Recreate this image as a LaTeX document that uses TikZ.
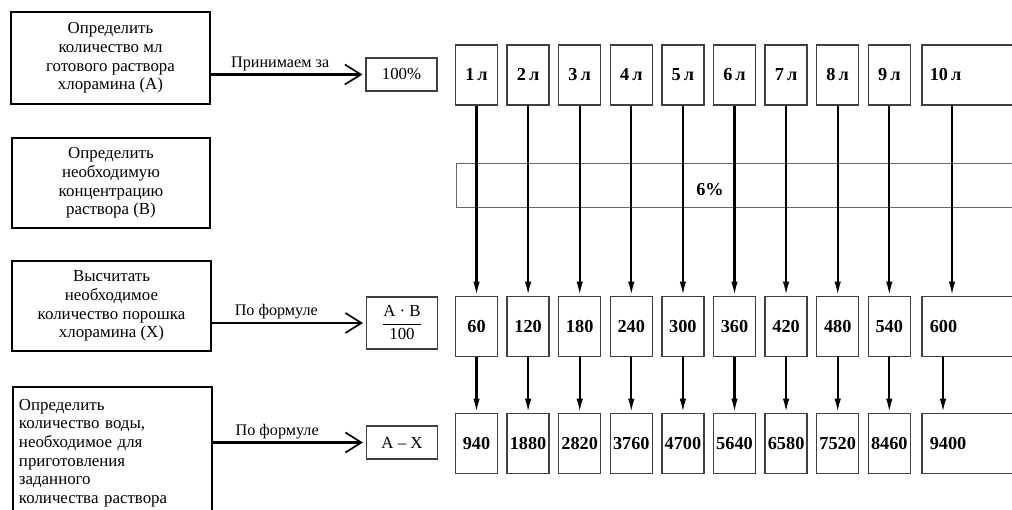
\documentclass[tikz,border=0pt]{standalone}
\usepackage{amsmath}
\usepackage{fontspec}
\setmainfont{Liberation Serif}
\usepackage{tikz}
\usetikzlibrary{arrows.meta, positioning}

\begin{document}
\begin{tikzpicture}[
  x=0.025cm, y=-0.025cm,
  stepbox/.style={rectangle, draw, line width=1.4pt, minimum width=4.95cm, minimum height=2.25cm, align=center, font=\fontsize{12}{13.3}\selectfont},
  resbox/.style={rectangle, draw=black!75, line width=1pt, minimum width=1.775cm, minimum height=0.825cm, font=\fontsize{12}{13}\selectfont},
  valbox/.style={rectangle, draw=black!75, line width=1.1pt, minimum width=1.05cm, minimum height=1.5cm, inner sep=1pt, font=\bfseries\fontsize{13}{14}\selectfont},
  widebox/.style={valbox, anchor=west, minimum width=2.75cm, text width=2.35cm, inner xsep=0.2cm, align=left},
  harrow/.style={-{Straight Barb[length=4mm, width=5mm, line width=1.2pt]}, line width=1.5pt, shorten >=2pt},
  varrow/.style={-{Latex[length=3.5mm, width=1.6mm]}, line width=1.5pt},
  lbl/.style={font=\fontsize{11.5}{12}\selectfont, inner sep=2pt}
]
\useasboundingbox (0,0) rectangle (1012,510);

\node (detA) [stepbox, minimum height=2.3cm] at (110.5,58) {Определить\\количество мл\\готового раствора\\хлорамина (А)};
\node (detB) [stepbox] at (111,183) {Определить\\необходимую\\концентрацию\\раствора (В)};
\node (calcX) [stepbox] at (111.5,306) {Высчитать\\необходимое\\количество порошка\\хлорамина (Х)};
\node (water) [stepbox, anchor=north west, minimum height=3.3cm, text width=4.675cm, inner xsep=0.15cm, align=left] at (12,386) {Определить\\количество воды,\\необходимое для\\приготовления\\заданного\\количества раствора};

\node (full) [resbox] at (401.5,74.5) {100\%};
\node (frac) [resbox, minimum height=1.3cm] at (402,323) {$\dfrac{\text{A · B}}{\text{100}}$};
\node (diff) [resbox] at (402,442.5) {A -- X};

\draw [harrow] (detA.east |- full.west) -- node[lbl, above, pos=0.45] {Принимаем за} (full.west);
\draw [harrow] (calcX.east |- frac.west) -- node[lbl, above, pos=0.42] {По формуле} (frac.west);
\draw [harrow] (water.east |- diff.west) -- node[lbl, above, pos=0.42] {По формуле} (diff.west);

% concentration band, crossed by the arrows
\node (band) [rectangle, draw=black!60, line width=0.6pt, minimum width=14.35cm, minimum height=1.1cm] at (743,185) {};
\node (conc) [font=\bfseries\fontsize{13}{14}\selectfont] at (710,190) {6\%};

\foreach \x/\n/\m/\w in {476.5/1/60/940, 528.1/2/120/1880, 579.7/3/180/2820, 631.3/4/240/3760,
    682.9/5/300/4700, 734.5/6/360/5640, 786.1/7/420/6580, 837.7/8/480/7520, 889.3/9/540/8460} {
  \node (vol\n) [valbox] at (\x,75) {\n\,л};
  \node (pow\n) [valbox] at (\x,326.5) {\m};
  \node (wat\n) [valbox] at (\x,443.5) {\w};
  \draw [varrow] (vol\n) -- (pow\n);
  \draw [varrow] (pow\n) -- (wat\n);
}

% last column runs past the right edge
\node (vol10) [widebox] at (921,75) {10\,л};
\node (pow10) [widebox] at (921,326.5) {600};
\node (wat10) [widebox] at (921,443.5) {9400};
\coordinate (colA) at (952,0);
\coordinate (colB) at (943,0);
\draw [varrow] (vol10.south -| colA) -- (pow10.north -| colA);
\draw [varrow] (pow10.south -| colB) -- (wat10.north -| colB);

\end{tikzpicture}
\end{document}
